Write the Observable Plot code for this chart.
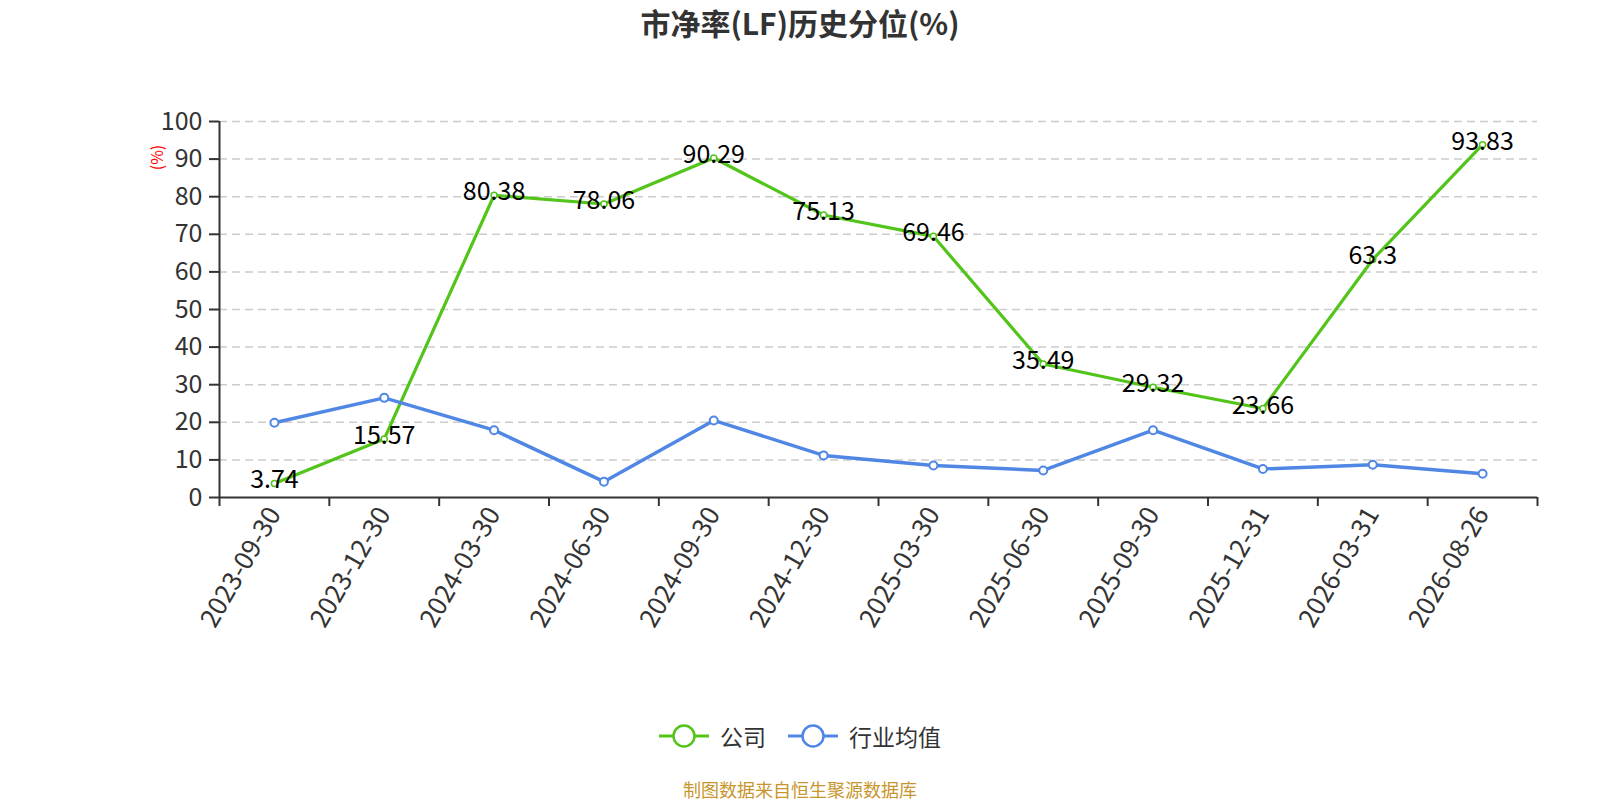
<!DOCTYPE html>
<html>
<head>
<meta charset="utf-8">
<script src="https://cdn.jsdelivr.net/npm/d3@7"></script>
<script src="https://cdn.jsdelivr.net/npm/@observablehq/plot@0.6"></script>
<style>
  html, body { margin: 0; padding: 0; background: #fff; }
  body { width: 1600px; height: 800px; position: relative; overflow: hidden;
         font-family: "Noto Sans CJK SC", "Noto Sans", sans-serif; }
  #title { position: absolute; left: 0; top: 0; width: 1600px; height: 45px; line-height: 45px;
           text-align: center; font-size: 30px; font-weight: bold; color: #333; }
  #chart { position: absolute; left: 0; top: 50px; }
  #legend { position: absolute; left: 0; top: 716px; width: 1600px; height: 40px;
            display: flex; justify-content: center; align-items: center; gap: 22px;
            font-size: 23px; color: #333; }
  .item { display: flex; align-items: center; gap: 11px; }
  #footer { position: absolute; left: 0; top: 777px; width: 1600px; height: 24px; line-height: 24px;
            text-align: center; font-size: 18px; color: #C8962E; }
</style>
</head>
<body>
<div id="title">市净率(LF)历史分位(%)</div>
<div id="chart"></div>
<div id="legend"></div>
<div id="footer">制图数据来自恒生聚源数据库</div>
<script>
const dates = ["2023-09-30","2023-12-30","2024-03-30","2024-06-30","2024-09-30","2024-12-30",
               "2025-03-30","2025-06-30","2025-09-30","2025-12-31","2026-03-31","2026-08-26"];
const company = [3.74, 15.57, 80.38, 78.06, 90.29, 75.13, 69.46, 35.49, 29.32, 23.66, 63.3, 93.83];
const industry = [19.9, 26.5, 17.9, 4.2, 20.5, 11.2, 8.5, 7.2, 17.9, 7.6, 8.7, 6.3];
const yTicks = [0, 10, 20, 30, 40, 50, 60, 70, 80, 90, 100];
const seriesNames = ["公司", "行业均值"];
const colors = ["#52C41A", "#5087E5"];

const rows = dates.map((d, i) => ({i, date: d, company: company[i], industry: industry[i]}));
const xDomain = [-0.5, dates.length - 0.5];
const boundaries = d3.range(dates.length + 1).map(k => k - 0.5);

const chart = Plot.plot({
  width: 1600,
  height: 600,
  marginLeft: 219,
  marginRight: 63,
  marginTop: 71,
  marginBottom: 153,
  style: {fontFamily: '"Noto Sans CJK SC", "Noto Sans", sans-serif', background: "white"},
  x: {domain: xDomain},
  y: {domain: [yTicks[0], yTicks[yTicks.length - 1]]},
  marks: [
    Plot.gridY({ticks: yTicks.slice(1), stroke: "#ccc", strokeOpacity: 1, strokeWidth: 1.5, strokeDasharray: "8,5"}),
    Plot.axisY({ticks: yTicks, tickSize: 10, tickPadding: 7, fontSize: 25, fill: "#333", stroke: "#333", strokeWidth: 2, label: null}),
    Plot.ruleX([xDomain[0]], {y1: yTicks[0], y2: yTicks[yTicks.length - 1], stroke: "#333", strokeWidth: 2}),
    Plot.ruleY([yTicks[0]], {stroke: "#333", strokeWidth: 2}),
    Plot.axisX({ticks: boundaries, tickFormat: () => "", tickSize: 9, stroke: "#333", strokeWidth: 2, label: null}),
    Plot.axisX({ticks: d3.range(dates.length), tickFormat: i => dates[i], tickSize: 0, tickPadding: 12,
                tickRotate: -60, fontSize: 26, fill: "#333", label: null}),
    Plot.text(["(%)"], {frameAnchor: "top-left", textAnchor: "middle", lineAnchor: "middle",
                        dx: -62, dy: 36, rotate: -90, fill: "red", fontSize: 16}),
    Plot.line(rows, {x: "i", y: "company", stroke: colors[0], strokeWidth: 3.2}),
    Plot.line(rows, {x: "i", y: "industry", stroke: colors[1], strokeWidth: 3.5}),
    Plot.dot(rows, {x: "i", y: "company", r: 3, fill: "white", stroke: colors[0], strokeWidth: 1.5}),
    Plot.dot(rows, {x: "i", y: "industry", r: 4, fill: "white", stroke: colors[1], strokeWidth: 2}),
    Plot.text(rows, {x: "i", y: "company", text: d => String(d.company), fontSize: 25, fill: "black", dy: -3})
  ]
});
document.getElementById("chart").appendChild(chart);

const legend = document.getElementById("legend");
seriesNames.forEach((name, k) => {
  const item = document.createElement("div");
  item.className = "item";
  item.innerHTML = `<svg width="50" height="26"><line x1="0" y1="13" x2="50" y2="13" stroke="${colors[k]}" stroke-width="3"/>` +
    `<circle cx="25" cy="13" r="10.5" fill="white" stroke="${colors[k]}" stroke-width="2.5"/></svg><span>${name}</span>`;
  legend.appendChild(item);
});
</script>
</body>
</html>
